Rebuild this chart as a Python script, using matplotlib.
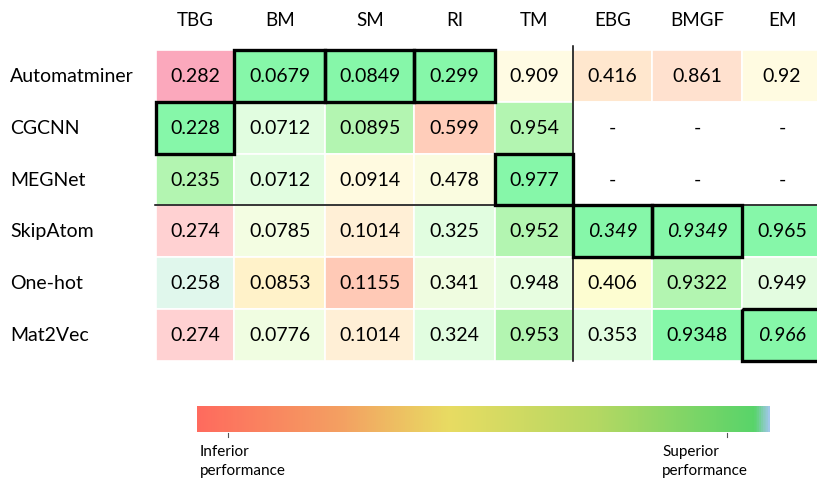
import matplotlib
matplotlib.use("Agg")
import matplotlib.pyplot as plt
from matplotlib.patches import Rectangle
from matplotlib.colors import LinearSegmentedColormap
import numpy as np

plt.rcParams["font.family"] = ["Lato", "DejaVu Sans"]

columns = ["TBG", "BM", "SM", "RI", "TM", "EBG", "BMGF", "EM"]
models = ["Automatminer", "CGCNN", "MEGNet", "SkipAtom", "One-hot", "Mat2Vec"]

# None = not reported ("-")
values = [
    [0.282, 0.0679, 0.0849, 0.299, 0.909, 0.416, 0.861, 0.92],
    [0.228, 0.0712, 0.0895, 0.599, 0.954, None, None, None],
    [0.235, 0.0712, 0.0914, 0.478, 0.977, None, None, None],
    [0.274, 0.0785, 0.1014, 0.325, 0.952, 0.349, 0.9349, 0.965],
    [0.258, 0.0853, 0.1155, 0.341, 0.948, 0.406, 0.9322, 0.949],
    [0.274, 0.0776, 0.1014, 0.324, 0.953, 0.353, 0.9348, 0.966],
]

# best result per task (boxed)
best = [
    [0, 1, 1, 1, 0, 0, 0, 0],
    [1, 0, 0, 0, 0, 0, 0, 0],
    [0, 0, 0, 0, 1, 0, 0, 0],
    [0, 0, 0, 0, 0, 1, 1, 0],
    [0, 0, 0, 0, 0, 0, 0, 0],
    [0, 0, 0, 0, 0, 0, 0, 1],
]

italic = [
    [0, 0, 0, 0, 0, 0, 0, 0],
    [0, 0, 0, 0, 0, 0, 0, 0],
    [0, 0, 0, 0, 0, 0, 0, 0],
    [0, 0, 0, 0, 0, 1, 1, 0],
    [0, 0, 0, 0, 0, 0, 0, 0],
    [0, 0, 0, 0, 0, 0, 0, 1],
]

cell_colors = [
    ["#FBA8BC", "#86F7A9", "#86F7A9", "#86F7A9", "#FFFBE3", "#FFE7CE", "#FFE1CF", "#FFFBE1"],
    ["#86F7A9", "#E1FDE0", "#B3F5B1", "#FFCDBA", "#B3F5B1", "white", "white", "white"],
    ["#B3F5B1", "#E1FDE0", "#FFFAE0", "#FAFCE0", "#86F7A9", "white", "white", "white"],
    ["#FFD1D2", "#F3FDE2", "#FFEFD6", "#E1FDE0", "#B3F5B1", "#86F7A9", "#86F7A9", "#86F7A9"],
    ["#E0F7EC", "#FFF2C9", "#FFC9B6", "#EFFCE0", "#E7FDE0", "#FDFDD1", "#B3F5B1", "#E3FCE0"],
    ["#FFD1D2", "#F0FDE1", "#FFEFD6", "#E1FDE0", "#B3F5B1", "#E1FDE0", "#86F7A9", "#86F7A9"],
]

# layout (pixel coordinates)
col_edges = [156, 234.5, 325, 414.5, 495, 573, 652.5, 742, 822]
row_edges = [51, 102.5, 154.5, 206, 258, 310, 362]

fig = plt.figure(figsize=(8.17, 4.85), dpi=100)
ax = fig.add_axes([0, 0, 1, 1])
ax.set_xlim(0, 817)
ax.set_ylim(485, 0)
ax.axis("off")

for i, model in enumerate(models):
    y0, y1 = row_edges[i], row_edges[i + 1]
    ax.text(10, (y0 + y1) / 2, model, ha="left", va="center", fontsize=14)
    for j in range(len(columns)):
        x0, x1 = col_edges[j], col_edges[j + 1]
        ax.add_patch(Rectangle((x0, y0), x1 - x0, y1 - y0,
                               facecolor=cell_colors[i][j], edgecolor="white", lw=1.2))
        v = values[i][j]
        label = "-" if v is None else str(v)
        ax.text((x0 + x1) / 2, (y0 + y1) / 2, label, ha="center", va="center",
                fontsize=14, style="italic" if italic[i][j] else "normal")

for j, col in enumerate(columns):
    ax.text((col_edges[j] + col_edges[j + 1]) / 2, 20, col, ha="center", va="center",
            fontsize=13.5)

# separators
ax.plot([155, 817], [206, 206], color="black", lw=1.1, zorder=4)
ax.plot([573, 573], [47, 362], color="black", lw=1.1, zorder=4)

# boxes around best results
for i in range(len(models)):
    for j in range(len(columns)):
        if best[i][j]:
            x0, x1 = col_edges[j], col_edges[j + 1]
            y0, y1 = row_edges[i], row_edges[i + 1]
            ax.add_patch(Rectangle((x0, y0), x1 - x0, y1 - y0, fill=False,
                                   edgecolor="black", lw=2.4, zorder=5))

# colour scale
cmap = LinearSegmentedColormap.from_list("perf", [
    (0.0, "#FF6B5E"), (0.25, "#F4A062"), (0.44, "#E8DC62"),
    (0.7, "#B4D863"), (0.975, "#58D46A"), (1.0, "#A0C8E8")])
grad = np.linspace(0, 1, 512).reshape(1, -1)
ax.imshow(grad, cmap=cmap, aspect="auto", extent=(197, 770, 433, 407), zorder=1)
for tx in [228, 727]:
    ax.plot([tx, tx], [434, 438], color="#555555", lw=0.8)
ax.text(200, 445, "Inferior\nperformance", ha="left", va="top", fontsize=11,
        linespacing=1.5)
ax.text(662, 445, "Superior\nperformance", ha="left", va="top", fontsize=11,
        linespacing=1.5)

fig.savefig("out.png", dpi=100)
